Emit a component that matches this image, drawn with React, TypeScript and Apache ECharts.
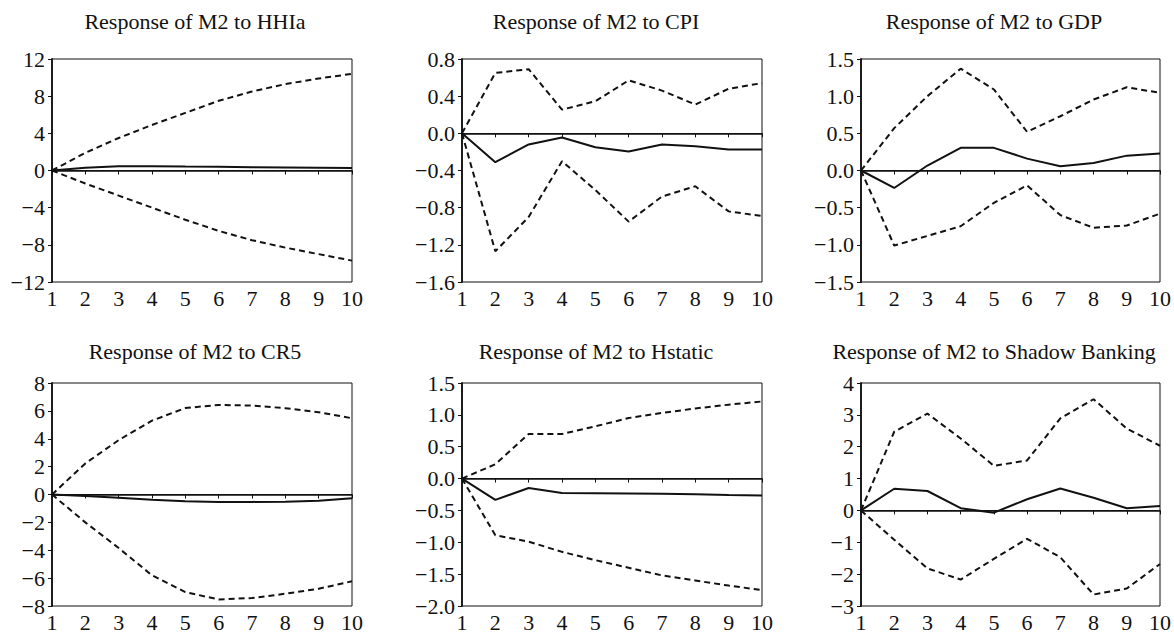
import React, { useEffect, useRef } from "react";
import * as echarts from "echarts";

const periods = ["1", "2", "3", "4", "5", "6", "7", "8", "9", "10"];

const titles = [
  "Response of M2 to HHIa",
  "Response of M2 to CPI",
  "Response of M2 to GDP",
  "Response of M2 to CR5",
  "Response of M2 to Hstatic",
  "Response of M2 to Shadow Banking",
];

// HHIa
const hhiaResp = [0, 0.3, 0.45, 0.45, 0.42, 0.4, 0.36, 0.33, 0.3, 0.28];
const hhiaUpper = [0, 1.9, 3.5, 4.9, 6.2, 7.5, 8.5, 9.3, 9.9, 10.4];
const hhiaLower = [0, -1.4, -2.7, -4.0, -5.3, -6.5, -7.5, -8.3, -9.0, -9.7];

// CPI
const cpiResp = [0, -0.31, -0.12, -0.045, -0.15, -0.195, -0.12, -0.14, -0.175, -0.175];
const cpiUpper = [0, 0.65, 0.69, 0.255, 0.345, 0.57, 0.46, 0.31, 0.48, 0.54];
const cpiLower = [0, -1.27, -0.9, -0.3, -0.61, -0.95, -0.68, -0.57, -0.84, -0.89];

// GDP
const gdpResp = [0, -0.235, 0.067, 0.305, 0.305, 0.16, 0.058, 0.1, 0.2, 0.23];
const gdpUpper = [0, 0.57, 1.0, 1.37, 1.09, 0.52, 0.73, 0.955, 1.12, 1.045];
const gdpLower = [0, -1.01, -0.88, -0.75, -0.435, -0.2, -0.6, -0.77, -0.74, -0.58];

// CR5
const cr5Resp = [0, -0.1, -0.24, -0.38, -0.48, -0.53, -0.53, -0.52, -0.45, -0.27];
const cr5Upper = [0, 2.23, 3.9, 5.3, 6.2, 6.43, 6.38, 6.19, 5.9, 5.47];
const cr5Lower = [0, -2.0, -3.84, -5.8, -7.0, -7.53, -7.43, -7.12, -6.76, -6.23];

// Hstatic
const hstaticResp = [0, -0.335, -0.147, -0.225, -0.23, -0.235, -0.24, -0.245, -0.257, -0.267];
const hstaticUpper = [0, 0.225, 0.7, 0.7, 0.82, 0.95, 1.03, 1.1, 1.16, 1.21];
const hstaticLower = [0, -0.89, -0.99, -1.15, -1.28, -1.4, -1.52, -1.6, -1.68, -1.75];

// Shadow Banking
const shadowResp = [0, 0.68, 0.61, 0.07, -0.07, 0.35, 0.69, 0.4, 0.07, 0.14];
const shadowUpper = [0, 2.47, 3.04, 2.26, 1.4, 1.57, 2.89, 3.49, 2.57, 2.03];
const shadowLower = [0, -0.92, -1.82, -2.17, -1.52, -0.89, -1.47, -2.64, -2.45, -1.68];

// y-axis scales
const yMins = [-12, -1.6, -1.5, -8, -2.0, -3];
const yMaxs = [12, 0.8, 1.5, 8, 1.5, 4];
const yIntervals = [4, 0.4, 0.5, 2, 0.5, 1];
const yDecimals = [0, 1, 1, 0, 1, 0];

const responses = [hhiaResp, cpiResp, gdpResp, cr5Resp, hstaticResp, shadowResp];
const uppers = [hhiaUpper, cpiUpper, gdpUpper, cr5Upper, hstaticUpper, shadowUpper];
const lowers = [hhiaLower, cpiLower, gdpLower, cr5Lower, hstaticLower, shadowLower];

const FONT = '"Liberation Serif", "Times New Roman", serif';
const INK = "#111111";

const gridLefts = [52, 462, 861];
const gridTops = [59, 383];
const GRID_W = 300;
const GRID_H = 223;
const titleCenters = [195, 596, 994];
const titleTops = [10, 340];

export default function App() {
  const ref = useRef<HTMLDivElement>(null);

  useEffect(() => {
    if (!ref.current) return;
    const chart = echarts.init(ref.current, undefined, { renderer: "svg" });

    const grids: any[] = [];
    const xAxes: any[] = [];
    const yAxes: any[] = [];
    const series: any[] = [];
    const titleList: any[] = [];

    for (let i = 0; i < 6; i++) {
      const col = i % 3;
      const row = Math.floor(i / 3);
      grids.push({
        left: gridLefts[col],
        top: gridTops[row],
        width: GRID_W,
        height: GRID_H,
        show: true,
        borderColor: INK,
        borderWidth: 1,
        backgroundColor: "transparent",
      });
      titleList.push({
        text: titles[i],
        left: titleCenters[col],
        top: titleTops[row],
        textAlign: "center",
        padding: 0,
        textStyle: {
          fontFamily: FONT,
          fontWeight: "normal",
          fontSize: 22,
          color: INK,
        },
      });
      xAxes.push({
        type: "category",
        gridIndex: i,
        data: periods,
        boundaryGap: false,
        axisLine: { show: true, lineStyle: { color: INK, width: 1.5 } },
        axisTick: { show: true, inside: false, length: 4, alignWithLabel: true, lineStyle: { color: INK, width: 1 } },
        axisLabel: { fontFamily: FONT, fontSize: 22, color: INK, margin: 5, interval: 0 },
        splitLine: { show: false },
      });
      const dec = yDecimals[i];
      yAxes.push({
        type: "value",
        gridIndex: i,
        min: yMins[i],
        max: yMaxs[i],
        interval: yIntervals[i],
        axisLine: { show: true, onZero: false, lineStyle: { color: INK, width: 1.8 } },
        axisTick: { show: true, inside: false, length: 4, lineStyle: { color: INK, width: 1 } },
        axisLabel: {
          fontFamily: FONT,
          fontSize: 22,
          color: INK,
          margin: 7,
          formatter: (v: number) => {
            const s = Math.abs(v).toFixed(dec);
            const isZero = Math.abs(v) < 1e-9;
            return (v < 0 && !isZero ? "\u2212" : "") + s;
          },
        },
        splitLine: { show: false },
      });
      series.push({
        type: "line",
        xAxisIndex: i,
        yAxisIndex: i,
        data: responses[i],
        symbol: "none",
        lineStyle: { color: INK, width: 2, type: "solid" },
        markLine: {
          silent: true,
          symbol: ["none", "none"],
          label: { show: false },
          lineStyle: { color: INK, width: 1, type: "solid" },
          data: [{ yAxis: 0 }],
        },
        z: 3,
      });
      series.push({
        type: "line",
        xAxisIndex: i,
        yAxisIndex: i,
        data: uppers[i],
        symbol: "none",
        lineStyle: { color: INK, width: 2, type: [6, 4] },
        z: 2,
      });
      series.push({
        type: "line",
        xAxisIndex: i,
        yAxisIndex: i,
        data: lowers[i],
        symbol: "none",
        lineStyle: { color: INK, width: 2, type: [6, 4] },
        z: 2,
      });
    }

    chart.setOption({
      animation: false,
      backgroundColor: "#ffffff",
      title: titleList,
      grid: grids,
      xAxis: xAxes,
      yAxis: yAxes,
      series,
    });

    return () => chart.dispose();
  }, []);

  return (
    <div
      ref={ref}
      style={{ position: "absolute", left: 0, top: 0, width: 1174, height: 635 }}
    />
  );
}
